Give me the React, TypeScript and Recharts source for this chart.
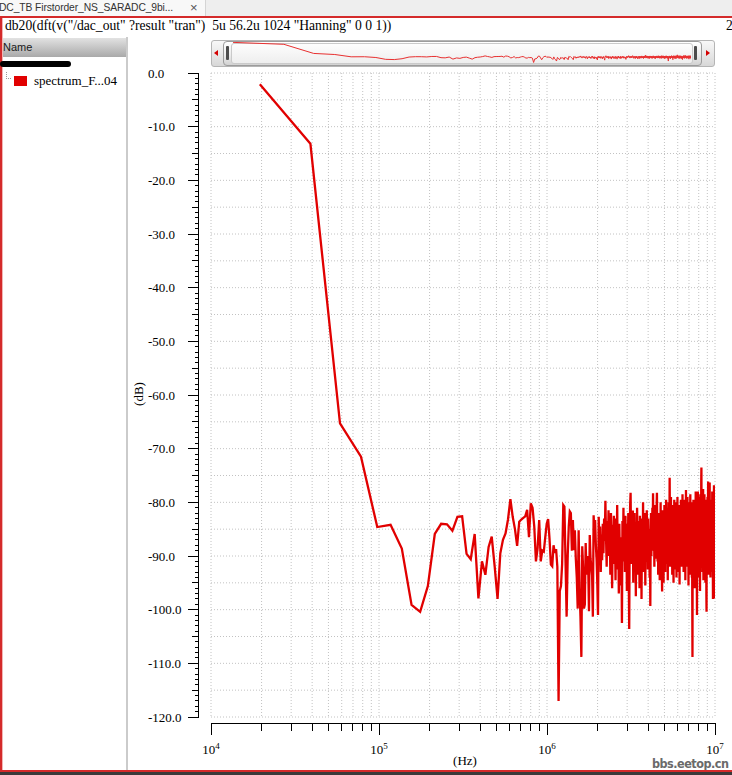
import React from 'react';
import { LineChart, Line, XAxis, YAxis, CartesianGrid } from 'recharts';

// DFT bin spacing: 1 / (56.2u - 5u) = 19.53 kHz; bins k = 1..512
const binHz = 19531.25;

// db20 magnitude of each DFT bin (k = 1 .. 512)
const spectrumDb: number[] = [
  -2.1, -13.2, -65.3, -71.5, -84.6, -84.2, -88.6, -99.1, -100.4, -95.6,
  -85.9, -84.0, -84.1, -85.3, -82.7, -82.6, -89.6, -90.6, -85.9, -97.9,
  -91.0, -93.5, -88.3, -86.4, -92.0, -98.0, -89.5, -87.0, -85.8, -83.2,
  -79.4, -82.7, -85.0, -88.1, -83.6, -83.2, -82.9, -82.6, -81.4, -86.5,
  -80.2, -81.0, -84.5, -91.0, -88.6, -83.3, -91.0, -89.0, -89.2, -86.5,
  -84.0, -83.1, -86.8, -91.6, -91.9, -88.0, -89.4, -88.7, -92.0, -117.0,
  -96.5, -95.6, -91.5, -80.5, -80.8, -91.0, -101.3, -90.0, -84.5, -81.7,
  -82.0, -89.0, -83.3, -88.9, -85.2, -90.5, -94.0, -99.8, -85.2, -96.0,
  -101.4, -108.8, -88.2, -92.5, -99.8, -99.0, -87.6, -93.5, -90.0, -91.2,
  -100.3, -86.1, -90.5, -92.0, -93.6, -101.3, -82.4, -85.5, -83.3, -88.0,
  -90.5, -95.0, -101.0, -82.7, -88.0, -84.5, -93.0, -86.0, -90.8, -84.0,
  -89.5, -83.0, -87.2, -79.7, -86.5, -92.0, -83.5, -88.8, -81.5, -90.0,
  -85.0, -93.5, -82.0, -87.5, -96.0, -84.2, -89.0, -82.5, -91.5, -86.0,
  -94.5, -83.0, -88.0, -80.5, -92.5, -85.5, -97.0, -84.0, -90.5, -86.5,
  -95.5, -88.0, -102.5, -83.5, -89.5, -81.0, -91.0, -85.0, -93.0, -82.5,
  -88.5, -84.0, -96.5, -86.0, -90.0, -82.0, -94.0, -103.6, -87.0, -80.5,
  -78.2, -86.5, -91.5, -83.0, -89.0, -81.5, -95.0, -85.5, -88.5, -82.0,
  -92.0, -86.0, -97.5, -84.5, -90.0, -81.0, -87.5, -93.5, -83.5, -89.5,
  -85.0, -96.0, -82.5, -88.0, -91.5, -84.0, -98.0, -86.5, -83.0, -90.5,
  -80.0, -87.0, -93.0, -85.5, -89.5, -82.0, -95.5, -84.5, -91.0, -86.0,
  -81.5, -88.5, -84.0, -92.5, -83.0, -87.0, -90.5, -85.0, -94.0, -88.0,
  -99.3, -86.5, -82.0, -90.0, -84.5, -88.5, -81.0, -86.0, -78.3, -85.0,
  -89.0, -82.5, -92.0, -84.0, -87.5, -80.5, -90.5, -83.5, -88.0, -81.0,
  -78.2, -86.0, -91.0, -83.0, -93.5, -85.5, -82.0, -89.5, -84.5, -94.5,
  -83.0, -88.0, -80.0, -91.5, -86.0, -83.5, -92.5, -96.6, -85.0, -81.5,
  -89.0, -84.0, -95.0, -82.5, -87.5, -80.5, -90.0, -85.0, -93.0, -82.0,
  -88.5, -79.5, -86.0, -91.5, -83.5, -89.0, -81.0, -94.5, -84.5, -87.5,
  -80.0, -90.5, -83.0, -86.0, -75.4, -84.0, -92.0, -82.5, -88.0, -79.0,
  -91.0, -84.5, -87.0, -80.5, -93.5, -83.0, -89.5, -81.5, -86.5, -95.0,
  -82.0, -88.0, -79.5, -90.0, -84.0, -86.5, -80.0, -92.5, -83.5, -88.5,
  -81.0, -94.0, -85.5, -82.5, -89.0, -79.0, -91.5, -84.0, -87.0, -82.0,
  -93.0, -85.0, -88.5, -80.5, -95.3, -83.5, -86.5, -81.0, -90.0, -84.5,
  -79.5, -89.0, -83.0, -92.0, -85.5, -81.5, -88.0, -78.5, -91.0, -84.0,
  -87.5, -80.0, -93.0, -82.5, -86.0, -79.5, -90.5, -84.5, -88.0, -81.0,
  -94.5, -83.0, -87.0, -77.7, -85.5, -89.5, -80.5, -92.0, -83.5, -86.5,
  -79.0, -91.0, -84.0, -88.5, -81.5, -95.5, -83.0, -87.0, -80.0, -90.0,
  -85.0, -82.0, -93.5, -84.5, -78.5, -89.0, -86.0, -81.0, -91.5, -83.5,
  -88.0, -80.0, -94.0, -85.0, -99.0, -108.8, -87.5, -82.0, -90.5, -84.0,
  -79.5, -92.5, -85.5, -81.0, -88.5, -83.0, -96.0, -84.5, -80.0, -89.5,
  -82.5, -87.0, -78.0, -91.0, -84.0, -86.5, -80.5, -93.5, -95.0, -101.0,
  -86.0, -81.5, -89.0, -83.5, -78.0, -92.0, -85.0, -88.0, -80.5, -94.0,
  -83.0, -87.5, -79.0, -90.5, -84.5, -82.0, -96.5, -85.5, -78.5, -89.0,
  -83.5, -80.0, -88.0, -76.0, -73.5, -84.0, -91.5, -81.5, -87.0, -79.5,
  -93.0, -85.0, -82.0, -89.5, -77.5, -86.0, -94.5, -83.0, -80.0, -90.0,
  -84.5, -87.5, -78.5, -92.5, -85.5, -81.0, -89.0, -83.5, -95.0, -86.5,
  -79.5, -91.0, -84.0, -88.0, -97.5, -100.4, -86.5, -81.5, -90.0, -83.0,
  -87.0, -79.0, -92.0, -84.5, -80.5, -76.1, -88.5, -82.5, -93.5, -85.0,
  -81.0, -89.5, -84.0, -87.5, -78.5, -76.3, -90.0, -83.5, -86.0, -80.0,
  -94.0, -85.5, -82.0, -88.5, -79.5, -91.5, -84.0, -87.0, -80.5, -93.0,
  -83.0, -88.0, -78.0, -90.5, -85.0, -82.5, -92.0, -98.0, -84.5, -80.0,
  -89.0, -83.5, -87.5, -79.5, -76.8, -86.0, -91.5, -82.0, -88.5, -84.0,
  -93.0, -97.9,
];

const xDecades = [1e4, 1e5, 1e6, 1e7];
const xDecadeExponents = ['4', '5', '6', '7'];
const xMinorMultipliers = [2, 3, 4, 5, 6, 7, 8, 9];
const yMajorTicks = [0, -10, -20, -30, -40, -50, -60, -70, -80, -90, -100, -110, -120];
const yMajorLabels = ['0.0', '-10.0', '-20.0', '-30.0', '-40.0', '-50.0', '-60.0', '-70.0', '-80.0', '-90.0', '-100.0', '-110.0', '-120.0'];
const yGridValues = [0, -5, -10, -15, -20, -25, -30, -35, -40, -45, -50, -55, -60, -65, -70, -75, -80, -85, -90, -95, -100, -105, -110, -115, -120];
const yDomain = [-120, 0];

const xTitle = '(Hz)';
const yTitle = '(dB)';
const seriesName = 'spectrum_F...04';
const exprTitle = 'db20(dft(v("/dac_out" ?result "tran")  5u 56.2u 1024 "Hanning" 0 0 1))';
const tabTitle = 'DC_TB Firstorder_NS_SARADC_9bi...';
const headerName = 'Name';
const watermark = 'bbs.eetop.cn';

const data = spectrumDb.map((db, i) => ({ f: (i + 1) * binHz, db }));
const xTicks: number[] = [];
xDecades.slice(0, 3).forEach((d) => {
  xTicks.push(d);
  xMinorMultipliers.forEach((m) => xTicks.push(m * d));
});
xTicks.push(xDecades[3]);
const yTicks: number[] = [];
for (let v = 0; v >= -120; v -= 1) yTicks.push(v);

const RED = '#e10000';
const SERIF = '"Liberation Serif", "Times New Roman", serif';
const SANS = '"Liberation Sans", Arial, sans-serif';

const XTick = (props: any) => {
  const { x, y, payload } = props;
  const v = payload.value;
  const idx = xDecades.indexOf(v);
  const major = idx >= 0;
  const ay = y + 6;
  return (
    <g>
      <line x1={x} x2={x} y1={ay} y2={ay + (major ? 12 : 8)} stroke="#000" strokeWidth={1} shapeRendering="crispEdges" />
      {major && (
        <text x={x} y={ay + 31} textAnchor="middle" fontFamily={SERIF} fontSize={13} fill="#000">
          10<tspan dy={-5} fontSize={9}>{xDecadeExponents[idx]}</tspan>
        </text>
      )}
    </g>
  );
};

const YTick = (props: any) => {
  const { x, y, payload } = props;
  const v = payload.value;
  const ax = x - 12;
  const len = v % 10 === 0 ? 11 : v % 5 === 0 ? 7 : 4;
  const mi = yMajorTicks.indexOf(v);
  return (
    <g>
      <line x1={ax - len} x2={ax} y1={y} y2={y} stroke="#000" strokeWidth={1} shapeRendering="crispEdges" />
      {mi >= 0 && (
        <text x={x - 63} y={y} dy="0.35em" textAnchor="start" fontFamily={SERIF} fontSize={13} fill="#000">
          {yMajorLabels[mi]}
        </text>
      )}
    </g>
  );
};

const abs = (s: React.CSSProperties): React.CSSProperties => ({ position: 'absolute', ...s });

export default function App() {
  return (
    <div style={abs({ left: 0, top: 0, width: 732, height: 775, background: '#fff', overflow: 'hidden' })}>
      {/* tab strip */}
      <div style={abs({ left: 0, top: 0, width: 732, height: 16, background: '#eeeeee' })} />
      <div style={abs({ left: 0, top: 0, width: 205, height: 16, background: '#f8f8f8', borderRight: '1px solid #d4d4d4' })} />
      <div style={abs({ left: -1, top: 1, fontFamily: SANS, fontSize: 10.3, color: '#333', whiteSpace: 'pre', lineHeight: '13px', letterSpacing: -0.1 })}>{tabTitle}</div>
      <div style={abs({ left: 190, top: 0, fontFamily: SANS, fontSize: 13, color: '#555', lineHeight: '15px' })}>×</div>
      {/* window border */}
      <div style={abs({ left: 0, top: 16, width: 732, height: 2, background: '#d42a2a' })} />
      <div style={abs({ left: 0, top: 16, width: 2, height: 756, background: '#d42a2a' })} />
      <div style={abs({ left: 2, top: 18, width: 1, height: 752, background: '#f2b4b4' })} />
      {/* expression title */}
      <div style={abs({ left: 5, top: 18, fontFamily: SERIF, fontSize: 13.6, color: '#000', whiteSpace: 'pre', lineHeight: '16px' })}>{exprTitle}</div>
      <div style={abs({ left: 726, top: 18, fontFamily: SERIF, fontSize: 13.6, color: '#000', lineHeight: '16px' })}>2</div>

      {/* left panel */}
      <div style={abs({ left: 3, top: 38, width: 123, height: 19, background: 'linear-gradient(#e2e2e2, #a9a9a9)' })} />
      <div style={abs({ left: 3, top: 40, fontFamily: SANS, fontSize: 11, color: '#1a1a1a', lineHeight: '14px' })}>{headerName}</div>
      <div style={abs({ left: 0, top: 61, width: 71, height: 6, background: '#000', borderRadius: 3 })} />
      <div style={abs({ left: 6, top: 72, width: 4, height: 6, borderLeft: '1px dotted #999', borderBottom: '1px dotted #999' })} />
      <div style={abs({ left: 14, top: 76, width: 13, height: 10, background: RED })} />
      <div style={abs({ left: 34, top: 73, fontFamily: SERIF, fontSize: 13, color: '#000', whiteSpace: 'pre', lineHeight: '16px' })}>{seriesName}</div>
      <div style={abs({ left: 126, top: 37, width: 2, height: 733, background: '#cbcbcb' })} />

      {/* overview slider */}
      <div style={abs({ left: 211, top: 40, width: 502, height: 25, border: '1px solid #b5b5b5', borderRadius: 3, background: 'linear-gradient(#f8f8f8, #d8d8d8)' })} />
      <div style={abs({ left: 214, top: 50, width: 0, height: 0, borderTop: '3px solid transparent', borderBottom: '3px solid transparent', borderRight: '4px solid #d40000' })} />
      <div style={abs({ left: 706, top: 50, width: 0, height: 0, borderTop: '3px solid transparent', borderBottom: '3px solid transparent', borderLeft: '4px solid #d40000' })} />
      <div style={abs({ left: 223, top: 41, width: 477, height: 23, border: '1px solid #9c9c9c', borderRadius: 4, background: 'linear-gradient(#ffffff, #ececec 55%, #d2d2d2)' })} />
      <div style={abs({ left: 231, top: 43, width: 460, height: 19, border: '1px solid #cacaca', borderRadius: 3, background: 'linear-gradient(#fdfdfd, #eeeeee)' })} />
      <div style={abs({ left: 226, top: 46, width: 3, height: 14, background: '#4c4c4c', borderRadius: 1 })} />
      <div style={abs({ left: 694, top: 46, width: 3, height: 14, background: '#4c4c4c', borderRadius: 1 })} />
      <div style={abs({ left: 233, top: 42, width: 458, height: 21 })}>
        <LineChart width={458} height={21} data={data} margin={{ top: 0, right: 0, bottom: 0, left: 0 }}>
          <XAxis hide dataKey="f" type="number" scale="log" domain={[binHz, 1e7]} allowDataOverflow />
          <YAxis hide type="number" domain={yDomain} allowDataOverflow />
          <Line dataKey="db" stroke="#e83030" strokeWidth={1} dot={false} isAnimationActive={false} type="linear" />
        </LineChart>
      </div>

      {/* main chart */}
      <div style={abs({ left: 127, top: 58 })}>
        <LineChart width={605} height={717} data={data} margin={{ top: 15, right: 17, bottom: 8, left: 14 }}>
          <CartesianGrid
            stroke="#c2c2c2"
            strokeDasharray="1 2"
            horizontalValues={yGridValues}
            verticalValues={xTicks}
          />
          <XAxis
            dataKey="f"
            type="number"
            scale="log"
            domain={[xDecades[0], xDecades[3]]}
            allowDataOverflow
            ticks={xTicks}
            interval={0}
            tick={<XTick />}
            tickLine={false}
            axisLine={false}
            tickSize={0}
            tickMargin={0}
            height={50}
          />
          <YAxis
            type="number"
            domain={yDomain}
            allowDataOverflow
            ticks={yTicks}
            interval={0}
            tick={<YTick />}
            tickLine={false}
            axisLine={false}
            tickSize={0}
            tickMargin={0}
            width={70}
          />
          <Line dataKey="db" stroke={RED} strokeWidth={2.3} dot={false} isAnimationActive={false} type="linear" />
        </LineChart>
      </div>
      {/* detached axis lines */}
      <div style={abs({ left: 198, top: 73, width: 1, height: 645, background: '#000' })} />
      <div style={abs({ left: 211, top: 723, width: 505, height: 1, background: '#000' })} />

      {/* axis titles */}
      <div style={abs({ left: 124, top: 386, width: 30, height: 16, transform: 'rotate(-90deg)', fontFamily: SERIF, fontSize: 13, textAlign: 'center', lineHeight: '16px', color: '#000' })}>{yTitle}</div>
      <div style={abs({ left: 445, top: 753, width: 40, textAlign: 'center', fontFamily: SERIF, fontSize: 13, lineHeight: '16px', color: '#000' })}>{xTitle}</div>
      <div style={abs({ left: 652, top: 757, fontFamily: '"DejaVu Sans Condensed", "DejaVu Sans", sans-serif', fontWeight: 'bold', fontSize: 12.5, color: '#6a6a6a', lineHeight: '13px', letterSpacing: -0.5 })}>{watermark}</div>

      {/* bottom border */}
      <div style={abs({ left: 0, top: 770, width: 732, height: 2, background: '#d42a2a' })} />
      <div style={abs({ left: 0, top: 772, width: 732, height: 3, background: '#3a3a3a' })} />
    </div>
  );
}
